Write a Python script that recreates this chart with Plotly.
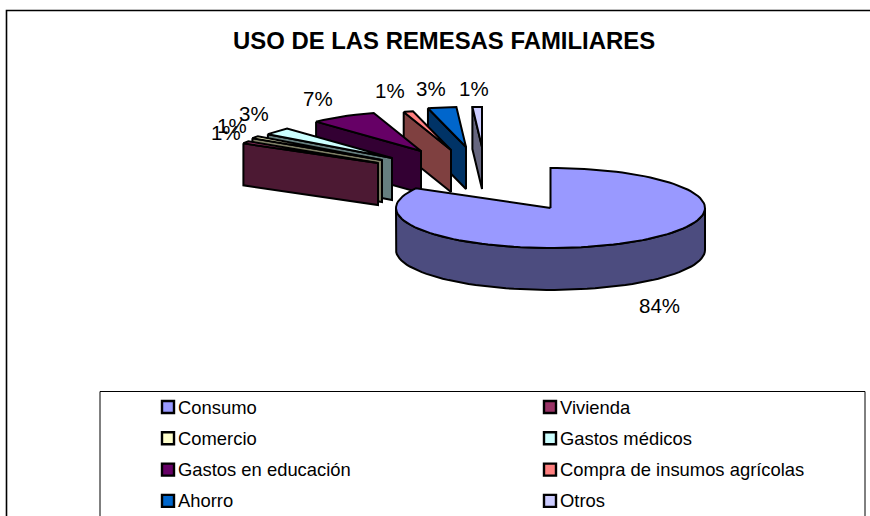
import numpy as np
import plotly.graph_objects as go

categories = ["Consumo", "Vivienda", "Comercio", "Gastos médicos", "Gastos en educación",
              "Compra de insumos agrícolas", "Ahorro", "Otros"]
values = [84, 1, 1, 3, 7, 1, 3, 1]
colors = ["#9999FF", "#993366", "#FFFFCC", "#CCFFFF", "#660066", "#FF8080", "#0066CC", "#CCCCFF"]

# slice tips after being dragged out of the pie, in page pixels
tips = [(550.5, 208), (378, 163), (382, 160), (392, 158), (421, 151), (451, 150), (466, 147), (482, 147)]
label_pos = [(659, 305), (226, 132), (232, 125), (254, 113), (318, 98), (390, 90), (431, 88), (474, 88)]

RX, RY, DEPTH = 154.5, 40, 42


def darken(col):
    r, g, b = [int(col[i:i + 2], 16) // 2 for i in (1, 3, 5)]
    return f"rgb({r},{g},{b})"


def rim(tip, a0, a1, n=2):
    a = np.radians(np.linspace(a0, a1, n))
    return tip[0] + RX * np.sin(a), tip[1] - RY * np.cos(a)


def poly(fig, xs, ys, fill):
    fig.add_trace(go.Scatter(x=list(xs) + [xs[0]], y=list(ys) + [ys[0]], mode="lines", fill="toself",
                             fillcolor=fill, line=dict(color="black", width=2),
                             hoverinfo="skip", showlegend=False))


fig = go.Figure()

# angles from the values, clockwise from 12 o'clock
edges = np.concatenate([[0], np.cumsum(values)]) / sum(values) * 360

# small slices, back to front
for i in range(len(values) - 1, 0, -1):
    tip = tips[i]
    a0, a1 = edges[i] - 360, edges[i + 1] - 360
    ex, ey = rim(tip, a0, a0, 1)
    poly(fig, [ex[0], tip[0], tip[0], ex[0]], [ey[0], tip[1], tip[1] + DEPTH, ey[0] + DEPTH], darken(colors[i]))
    rx, ry = rim(tip, a0, a1, 8)
    poly(fig, [tip[0], *rx], [tip[1], *ry], colors[i])

# big slice with its front wall
tip = tips[0]
fx, fy = rim(tip, 90, 270, 60)
poly(fig, list(fx) + list(fx[::-1]), list(fy) + list(fy[::-1] + DEPTH), darken(colors[0]))
rx, ry = rim(tip, 0, edges[1], 120)
poly(fig, [tip[0], *rx], [tip[1], *ry], colors[0])

# percent labels
for v, (x, y) in zip(values, label_pos):
    fig.add_annotation(x=x, y=y, text=f"{v}%", showarrow=False, font=dict(size=20.5, color="black"))

fig.add_annotation(x=444, y=40.5, text="<b>USO DE LAS REMESAS FAMILIARES</b>", showarrow=False,
                   font=dict(size=23.9, color="black"))

# legend box, two columns
fig.add_shape(type="rect", x0=100, y0=391.5, x1=865, y1=530, layer="below",
              line=dict(color="black", width=1), fillcolor="white")
for i, name in enumerate(categories):
    cx = 168 if i % 2 == 0 else 550
    cy = 407 + (i // 2) * 31.3
    fig.add_trace(go.Scatter(x=[cx], y=[cy], mode="markers", hoverinfo="skip", showlegend=False,
                             marker=dict(symbol="square", size=12, color=colors[i],
                                         line=dict(color="black", width=2.4))))
    fig.add_annotation(x=cx + 8, y=cy, text=name, showarrow=False, xanchor="left",
                       font=dict(size=18.4, color="black"))

# chart frame, runs off the right and bottom of the page
fig.add_shape(type="rect", x0=6.5, y0=10.5, x1=890, y1=530, layer="below", line=dict(color="black", width=1.6))

fig.update_layout(
    width=870, height=516, margin=dict(l=0, r=0, t=0, b=0),
    paper_bgcolor="white", plot_bgcolor="white",
    font=dict(family="Liberation Sans, Arial, sans-serif"),
    xaxis=dict(range=[0, 870], visible=False, fixedrange=True),
    yaxis=dict(range=[516, 0], visible=False, fixedrange=True),
)

fig.write_html("out.html", config={"displayModeBar": False},
               post_script="document.body.style.margin='0';document.body.style.overflow='hidden';")
